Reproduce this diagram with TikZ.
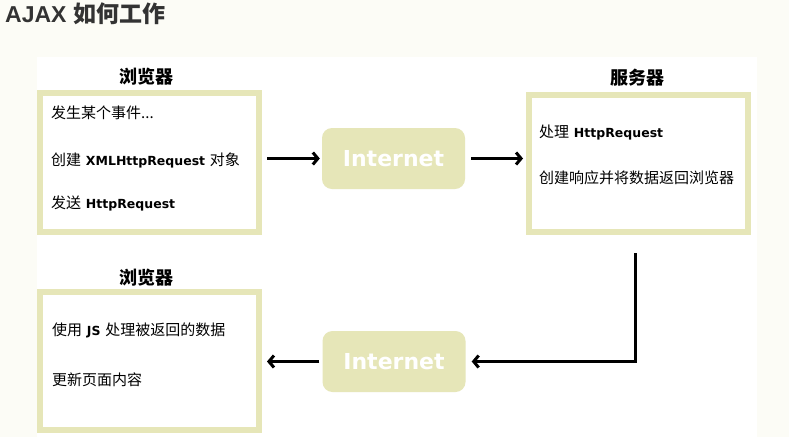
\documentclass[tikz,border=0pt]{standalone}
\usepackage{fontspec}
\setmainfont{DejaVu Sans}
\newfontfamily\cjk{Noto Sans CJK SC}
\newfontfamily\ttl{Liberation Sans}
\usetikzlibrary{arrows.meta,calc}
\definecolor{khaki}{RGB}{230,230,184}
\definecolor{pagebg}{RGB}{252,252,246}
\definecolor{titlec}{RGB}{51,51,51}
\newcommand\zh[1]{{\cjk #1}}
\newcommand\en[1]{{\fontsize{12.5}{15}\selectfont\bfseries #1}}
\begin{document}
\begin{tikzpicture}[x=1pt,y=-1pt,
  box/.style={draw=khaki,line width=6pt,minimum width=219pt,minimum height=139pt,inner sep=0pt,fill=white},
  inet/.style={fill=khaki,rounded corners=10pt,minimum width=143pt,minimum height=61pt,inner sep=0pt,text=white,font=\fontsize{22}{24}\selectfont\bfseries},
  lbl/.style={font=\cjk\bfseries\fontsize{18}{20}\selectfont,inner sep=0pt},
  txt/.style={anchor=west,inner sep=0pt,font=\fontsize{15}{17}\selectfont},
  arr/.style={line width=3pt,-{Straight Barb[length=5pt,width=12pt]}}]
\fill[pagebg] (0,0) rectangle (789,437);
\useasboundingbox (0,0) rectangle (789,437);
\fill[white] (37,57) rectangle (757,437);

\node[anchor=base west,inner sep=0pt,text=titlec,font=\fontsize{23}{25}\selectfont] (title) at (5,22) {{\ttl\bfseries AJAX} {\cjk\bfseries 如何工作}};

% boxes
\node[box] (box1) at (149.5,162.5) {};
\node[box,minimum height=137pt] (box2) at (638.5,163.5) {};
\node[box,minimum height=138pt] (box3) at (149.5,361) {};

\node[lbl] (l1) at (146,77) {浏览器};
\node[lbl] (l2) at (637,78) {服务器};
\node[lbl] (l3) at (146,278) {浏览器};

% texts
\node[txt] (t11) at (51,113) {\zh{发生某个事件...}};
\node[txt] (t12) at (51,160) {\zh{创建} \en{XMLHttpRequest} \zh{对象}};
\node[txt] (t13) at (51,203) {\zh{发送} \en{HttpRequest}};
\node[txt] (t21) at (539,133) {\zh{处理} \en{HttpRequest}};
\node[txt] (t22) at (539,178) {\zh{创建响应并将数据返回浏览器}};
\node[txt] (t31) at (52,330) {\zh{使用} \en{JS} \zh{处理被返回的数据}};
\node[txt] (t32) at (52,380) {\zh{更新页面内容}};

% internet
\node[inet] (inet1) at (393.5,158.5) {Internet};
\node[inet] (inet2) at (394,361.5) {Internet};

% connectors
\draw[arr,shorten <=5pt,shorten >=2pt] (inet1.west -| box1.east) -- (inet1.west);
\draw[arr,shorten <=6pt,shorten >=3pt] (inet1.east) -- (inet1.east -| box2.west);
\coordinate (c1) at (635,253);
\draw[arr,shorten >=6pt] (c1) |- (inet2.east);
\draw[arr,shorten <=3pt,shorten >=5pt] (inet2.west) -- (inet2.west -| box3.east);
\end{tikzpicture}
\end{document}
